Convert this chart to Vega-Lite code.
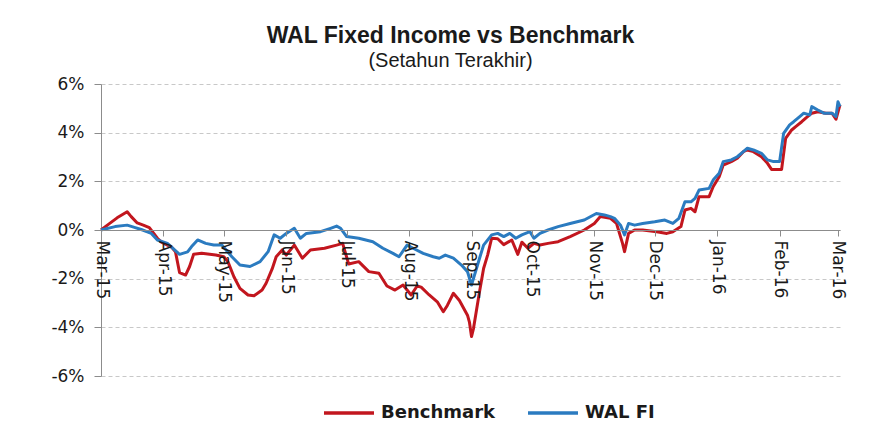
{
  "$schema": "https://vega.github.io/schema/vega-lite/v6.json",
  "autosize": "none",
  "width": 739,
  "height": 292,
  "padding": {"left": 101, "top": 84, "right": 37, "bottom": 56},
  "background": "white",
  "title": {
    "text": "WAL Fixed Income vs Benchmark",
    "subtitle": "(Setahun Terakhir)",
    "anchor": "middle",
    "frame": "group",
    "dx": -20,
    "offset": 4,
    "font": "Liberation Sans, Arial, sans-serif",
    "fontSize": 23,
    "fontWeight": "bold",
    "color": "#1a1a1a",
    "subtitleFont": "Liberation Sans, Arial, sans-serif",
    "subtitleFontSize": 20,
    "subtitleColor": "#1a1a1a",
    "subtitlePadding": 3
  },
  "config": {"view": {"stroke": null}, "font": "DejaVu Sans"},
  "data": {
    "values": [
      {"d": "2015-03-01", "s": "Benchmark", "v": 0},
      {"d": "2015-03-05", "s": "Benchmark", "v": 0.25},
      {"d": "2015-03-09", "s": "Benchmark", "v": 0.5},
      {"d": "2015-03-14", "s": "Benchmark", "v": 0.75},
      {"d": "2015-03-16", "s": "Benchmark", "v": 0.55},
      {"d": "2015-03-19", "s": "Benchmark", "v": 0.29},
      {"d": "2015-03-22", "s": "Benchmark", "v": 0.2},
      {"d": "2015-03-25", "s": "Benchmark", "v": 0.1},
      {"d": "2015-03-29", "s": "Benchmark", "v": -0.34},
      {"d": "2015-03-31", "s": "Benchmark", "v": -0.5},
      {"d": "2015-04-05", "s": "Benchmark", "v": -0.7},
      {"d": "2015-04-07", "s": "Benchmark", "v": -0.9},
      {"d": "2015-04-09", "s": "Benchmark", "v": -1.75},
      {"d": "2015-04-12", "s": "Benchmark", "v": -1.85},
      {"d": "2015-04-14", "s": "Benchmark", "v": -1.5},
      {"d": "2015-04-16", "s": "Benchmark", "v": -1.0},
      {"d": "2015-04-20", "s": "Benchmark", "v": -0.96},
      {"d": "2015-04-27", "s": "Benchmark", "v": -1.03},
      {"d": "2015-05-01", "s": "Benchmark", "v": -1.1},
      {"d": "2015-05-03", "s": "Benchmark", "v": -1.3},
      {"d": "2015-05-06", "s": "Benchmark", "v": -1.92},
      {"d": "2015-05-09", "s": "Benchmark", "v": -2.4},
      {"d": "2015-05-13", "s": "Benchmark", "v": -2.67},
      {"d": "2015-05-16", "s": "Benchmark", "v": -2.7},
      {"d": "2015-05-20", "s": "Benchmark", "v": -2.47},
      {"d": "2015-05-22", "s": "Benchmark", "v": -2.19},
      {"d": "2015-05-25", "s": "Benchmark", "v": -1.6},
      {"d": "2015-05-27", "s": "Benchmark", "v": -1.1},
      {"d": "2015-05-30", "s": "Benchmark", "v": -0.82},
      {"d": "2015-06-01", "s": "Benchmark", "v": -1.03},
      {"d": "2015-06-05", "s": "Benchmark", "v": -0.62},
      {"d": "2015-06-09", "s": "Benchmark", "v": -1.16},
      {"d": "2015-06-13", "s": "Benchmark", "v": -0.82},
      {"d": "2015-06-20", "s": "Benchmark", "v": -0.75},
      {"d": "2015-06-26", "s": "Benchmark", "v": -0.62},
      {"d": "2015-06-29", "s": "Benchmark", "v": -0.55},
      {"d": "2015-07-02", "s": "Benchmark", "v": -1.4},
      {"d": "2015-07-07", "s": "Benchmark", "v": -1.3},
      {"d": "2015-07-12", "s": "Benchmark", "v": -1.71},
      {"d": "2015-07-17", "s": "Benchmark", "v": -1.78},
      {"d": "2015-07-21", "s": "Benchmark", "v": -2.3},
      {"d": "2015-07-25", "s": "Benchmark", "v": -2.47},
      {"d": "2015-07-29", "s": "Benchmark", "v": -2.26},
      {"d": "2015-08-02", "s": "Benchmark", "v": -2.67},
      {"d": "2015-08-05", "s": "Benchmark", "v": -2.3},
      {"d": "2015-08-07", "s": "Benchmark", "v": -2.35},
      {"d": "2015-08-11", "s": "Benchmark", "v": -2.67},
      {"d": "2015-08-15", "s": "Benchmark", "v": -2.95},
      {"d": "2015-08-18", "s": "Benchmark", "v": -3.36},
      {"d": "2015-08-20", "s": "Benchmark", "v": -3.1},
      {"d": "2015-08-23", "s": "Benchmark", "v": -2.6},
      {"d": "2015-08-26", "s": "Benchmark", "v": -2.9},
      {"d": "2015-08-30", "s": "Benchmark", "v": -3.5},
      {"d": "2015-08-31", "s": "Benchmark", "v": -3.8},
      {"d": "2015-09-01", "s": "Benchmark", "v": -4.38},
      {"d": "2015-09-02", "s": "Benchmark", "v": -4.04},
      {"d": "2015-09-05", "s": "Benchmark", "v": -2.53},
      {"d": "2015-09-07", "s": "Benchmark", "v": -1.58},
      {"d": "2015-09-09", "s": "Benchmark", "v": -1.03},
      {"d": "2015-09-11", "s": "Benchmark", "v": -0.34},
      {"d": "2015-09-14", "s": "Benchmark", "v": -0.36},
      {"d": "2015-09-17", "s": "Benchmark", "v": -0.6},
      {"d": "2015-09-21", "s": "Benchmark", "v": -0.41},
      {"d": "2015-09-24", "s": "Benchmark", "v": -1.0},
      {"d": "2015-09-26", "s": "Benchmark", "v": -0.5},
      {"d": "2015-09-29", "s": "Benchmark", "v": -0.75},
      {"d": "2015-10-02", "s": "Benchmark", "v": -0.55},
      {"d": "2015-10-05", "s": "Benchmark", "v": -0.62},
      {"d": "2015-10-09", "s": "Benchmark", "v": -0.55},
      {"d": "2015-10-14", "s": "Benchmark", "v": -0.48},
      {"d": "2015-10-20", "s": "Benchmark", "v": -0.27},
      {"d": "2015-10-27", "s": "Benchmark", "v": 0},
      {"d": "2015-11-01", "s": "Benchmark", "v": 0.27},
      {"d": "2015-11-04", "s": "Benchmark", "v": 0.55},
      {"d": "2015-11-09", "s": "Benchmark", "v": 0.48},
      {"d": "2015-11-12", "s": "Benchmark", "v": 0.27},
      {"d": "2015-11-15", "s": "Benchmark", "v": -0.55},
      {"d": "2015-11-16", "s": "Benchmark", "v": -0.89},
      {"d": "2015-11-18", "s": "Benchmark", "v": -0.14},
      {"d": "2015-11-21", "s": "Benchmark", "v": 0},
      {"d": "2015-11-25", "s": "Benchmark", "v": 0},
      {"d": "2015-12-02", "s": "Benchmark", "v": -0.07},
      {"d": "2015-12-07", "s": "Benchmark", "v": -0.14},
      {"d": "2015-12-10", "s": "Benchmark", "v": -0.07},
      {"d": "2015-12-14", "s": "Benchmark", "v": 0.14},
      {"d": "2015-12-16", "s": "Benchmark", "v": 0.82},
      {"d": "2015-12-19", "s": "Benchmark", "v": 0.89},
      {"d": "2015-12-21", "s": "Benchmark", "v": 0.75},
      {"d": "2015-12-23", "s": "Benchmark", "v": 1.37},
      {"d": "2015-12-28", "s": "Benchmark", "v": 1.37},
      {"d": "2015-12-30", "s": "Benchmark", "v": 1.78},
      {"d": "2016-01-02", "s": "Benchmark", "v": 2.19},
      {"d": "2016-01-04", "s": "Benchmark", "v": 2.67},
      {"d": "2016-01-08", "s": "Benchmark", "v": 2.81},
      {"d": "2016-01-11", "s": "Benchmark", "v": 2.95},
      {"d": "2016-01-14", "s": "Benchmark", "v": 3.22},
      {"d": "2016-01-16", "s": "Benchmark", "v": 3.29},
      {"d": "2016-01-19", "s": "Benchmark", "v": 3.22},
      {"d": "2016-01-23", "s": "Benchmark", "v": 3.01},
      {"d": "2016-01-26", "s": "Benchmark", "v": 2.74},
      {"d": "2016-01-28", "s": "Benchmark", "v": 2.49},
      {"d": "2016-02-02", "s": "Benchmark", "v": 2.49},
      {"d": "2016-02-04", "s": "Benchmark", "v": 3.77},
      {"d": "2016-02-07", "s": "Benchmark", "v": 4.11},
      {"d": "2016-02-09", "s": "Benchmark", "v": 4.25},
      {"d": "2016-02-12", "s": "Benchmark", "v": 4.45},
      {"d": "2016-02-14", "s": "Benchmark", "v": 4.6},
      {"d": "2016-02-17", "s": "Benchmark", "v": 4.8},
      {"d": "2016-02-20", "s": "Benchmark", "v": 4.86},
      {"d": "2016-02-24", "s": "Benchmark", "v": 4.8},
      {"d": "2016-02-27", "s": "Benchmark", "v": 4.8},
      {"d": "2016-02-29", "s": "Benchmark", "v": 4.55},
      {"d": "2016-03-02", "s": "Benchmark", "v": 5.14},
      {"d": "2015-03-01", "s": "WAL FI", "v": 0},
      {"d": "2015-03-08", "s": "WAL FI", "v": 0.14},
      {"d": "2015-03-14", "s": "WAL FI", "v": 0.2},
      {"d": "2015-03-18", "s": "WAL FI", "v": 0.1},
      {"d": "2015-03-21", "s": "WAL FI", "v": 0.02},
      {"d": "2015-03-26", "s": "WAL FI", "v": -0.14},
      {"d": "2015-03-29", "s": "WAL FI", "v": -0.41},
      {"d": "2015-04-03", "s": "WAL FI", "v": -0.55},
      {"d": "2015-04-09", "s": "WAL FI", "v": -1.0},
      {"d": "2015-04-13", "s": "WAL FI", "v": -0.9},
      {"d": "2015-04-15", "s": "WAL FI", "v": -0.68},
      {"d": "2015-04-18", "s": "WAL FI", "v": -0.41},
      {"d": "2015-04-22", "s": "WAL FI", "v": -0.55},
      {"d": "2015-04-26", "s": "WAL FI", "v": -0.62},
      {"d": "2015-04-30", "s": "WAL FI", "v": -0.62},
      {"d": "2015-05-05", "s": "WAL FI", "v": -1.1},
      {"d": "2015-05-09", "s": "WAL FI", "v": -1.44},
      {"d": "2015-05-14", "s": "WAL FI", "v": -1.5},
      {"d": "2015-05-19", "s": "WAL FI", "v": -1.3},
      {"d": "2015-05-23", "s": "WAL FI", "v": -0.89},
      {"d": "2015-05-26", "s": "WAL FI", "v": -0.2},
      {"d": "2015-05-29", "s": "WAL FI", "v": -0.34},
      {"d": "2015-06-01", "s": "WAL FI", "v": -0.14},
      {"d": "2015-06-05", "s": "WAL FI", "v": 0.07},
      {"d": "2015-06-08", "s": "WAL FI", "v": -0.34},
      {"d": "2015-06-11", "s": "WAL FI", "v": -0.14},
      {"d": "2015-06-18", "s": "WAL FI", "v": -0.07},
      {"d": "2015-06-23", "s": "WAL FI", "v": 0.07},
      {"d": "2015-06-26", "s": "WAL FI", "v": 0.16},
      {"d": "2015-06-28", "s": "WAL FI", "v": 0.07},
      {"d": "2015-07-01", "s": "WAL FI", "v": -0.27},
      {"d": "2015-07-07", "s": "WAL FI", "v": -0.34},
      {"d": "2015-07-14", "s": "WAL FI", "v": -0.48},
      {"d": "2015-07-19", "s": "WAL FI", "v": -0.75},
      {"d": "2015-07-24", "s": "WAL FI", "v": -0.96},
      {"d": "2015-07-27", "s": "WAL FI", "v": -1.1},
      {"d": "2015-07-31", "s": "WAL FI", "v": -0.62},
      {"d": "2015-08-03", "s": "WAL FI", "v": -0.75},
      {"d": "2015-08-08", "s": "WAL FI", "v": -0.96},
      {"d": "2015-08-13", "s": "WAL FI", "v": -1.1},
      {"d": "2015-08-16", "s": "WAL FI", "v": -1.16},
      {"d": "2015-08-19", "s": "WAL FI", "v": -1.03},
      {"d": "2015-08-23", "s": "WAL FI", "v": -1.16},
      {"d": "2015-08-27", "s": "WAL FI", "v": -1.44},
      {"d": "2015-08-30", "s": "WAL FI", "v": -1.71},
      {"d": "2015-09-01", "s": "WAL FI", "v": -2.26},
      {"d": "2015-09-02", "s": "WAL FI", "v": -1.99},
      {"d": "2015-09-05", "s": "WAL FI", "v": -1.16},
      {"d": "2015-09-07", "s": "WAL FI", "v": -0.62},
      {"d": "2015-09-11", "s": "WAL FI", "v": -0.2},
      {"d": "2015-09-14", "s": "WAL FI", "v": -0.14},
      {"d": "2015-09-17", "s": "WAL FI", "v": -0.27},
      {"d": "2015-09-20", "s": "WAL FI", "v": -0.14},
      {"d": "2015-09-23", "s": "WAL FI", "v": -0.34},
      {"d": "2015-09-26", "s": "WAL FI", "v": -0.2},
      {"d": "2015-09-30", "s": "WAL FI", "v": -0.07},
      {"d": "2015-10-02", "s": "WAL FI", "v": -0.34},
      {"d": "2015-10-05", "s": "WAL FI", "v": -0.14},
      {"d": "2015-10-09", "s": "WAL FI", "v": 0},
      {"d": "2015-10-14", "s": "WAL FI", "v": 0.14},
      {"d": "2015-10-20", "s": "WAL FI", "v": 0.27},
      {"d": "2015-10-27", "s": "WAL FI", "v": 0.41},
      {"d": "2015-11-02", "s": "WAL FI", "v": 0.68},
      {"d": "2015-11-06", "s": "WAL FI", "v": 0.62},
      {"d": "2015-11-09", "s": "WAL FI", "v": 0.55},
      {"d": "2015-11-11", "s": "WAL FI", "v": 0.48},
      {"d": "2015-11-14", "s": "WAL FI", "v": 0.2},
      {"d": "2015-11-16", "s": "WAL FI", "v": -0.2},
      {"d": "2015-11-18", "s": "WAL FI", "v": 0.27},
      {"d": "2015-11-21", "s": "WAL FI", "v": 0.2},
      {"d": "2015-11-25", "s": "WAL FI", "v": 0.27},
      {"d": "2015-12-01", "s": "WAL FI", "v": 0.34},
      {"d": "2015-12-06", "s": "WAL FI", "v": 0.41},
      {"d": "2015-12-10", "s": "WAL FI", "v": 0.27},
      {"d": "2015-12-13", "s": "WAL FI", "v": 0.48},
      {"d": "2015-12-16", "s": "WAL FI", "v": 1.16},
      {"d": "2015-12-19", "s": "WAL FI", "v": 1.16},
      {"d": "2015-12-21", "s": "WAL FI", "v": 1.3},
      {"d": "2015-12-23", "s": "WAL FI", "v": 1.64},
      {"d": "2015-12-28", "s": "WAL FI", "v": 1.71},
      {"d": "2015-12-30", "s": "WAL FI", "v": 2.05},
      {"d": "2016-01-02", "s": "WAL FI", "v": 2.33},
      {"d": "2016-01-04", "s": "WAL FI", "v": 2.81},
      {"d": "2016-01-08", "s": "WAL FI", "v": 2.88},
      {"d": "2016-01-11", "s": "WAL FI", "v": 3.01},
      {"d": "2016-01-14", "s": "WAL FI", "v": 3.22},
      {"d": "2016-01-16", "s": "WAL FI", "v": 3.36},
      {"d": "2016-01-19", "s": "WAL FI", "v": 3.29},
      {"d": "2016-01-23", "s": "WAL FI", "v": 3.15},
      {"d": "2016-01-26", "s": "WAL FI", "v": 2.88},
      {"d": "2016-01-29", "s": "WAL FI", "v": 2.81},
      {"d": "2016-02-01", "s": "WAL FI", "v": 2.81},
      {"d": "2016-02-03", "s": "WAL FI", "v": 3.97},
      {"d": "2016-02-06", "s": "WAL FI", "v": 4.32},
      {"d": "2016-02-08", "s": "WAL FI", "v": 4.45},
      {"d": "2016-02-11", "s": "WAL FI", "v": 4.66},
      {"d": "2016-02-13", "s": "WAL FI", "v": 4.8},
      {"d": "2016-02-16", "s": "WAL FI", "v": 4.73},
      {"d": "2016-02-17", "s": "WAL FI", "v": 5.07},
      {"d": "2016-02-20", "s": "WAL FI", "v": 4.93},
      {"d": "2016-02-23", "s": "WAL FI", "v": 4.8},
      {"d": "2016-02-27", "s": "WAL FI", "v": 4.8},
      {"d": "2016-02-29", "s": "WAL FI", "v": 4.66},
      {"d": "2016-03-01", "s": "WAL FI", "v": 5.27},
      {"d": "2016-03-02", "s": "WAL FI", "v": 5.07}
    ]
  },
  "mark": {"type": "line", "strokeWidth": 3, "strokeJoin": "round"},
  "encoding": {
    "x": {
      "field": "d",
      "type": "temporal",
      "scale": {
        "type": "utc",
        "domain": [
          {"year": 2015, "month": 3, "date": 1, "utc": true},
          {"year": 2016, "month": 3, "date": 2, "utc": true}
        ]
      },
      "axis": {
        "orient": "bottom",
        "offset": -146,
        "title": null,
        "grid": false,
        "zindex": 1,
        "values": [
          {"year": 2015, "month": 3, "date": 1, "utc": true},
          {"year": 2015, "month": 4, "date": 1, "utc": true},
          {"year": 2015, "month": 5, "date": 1, "utc": true},
          {"year": 2015, "month": 6, "date": 1, "utc": true},
          {"year": 2015, "month": 7, "date": 1, "utc": true},
          {"year": 2015, "month": 8, "date": 1, "utc": true},
          {"year": 2015, "month": 9, "date": 1, "utc": true},
          {"year": 2015, "month": 10, "date": 1, "utc": true},
          {"year": 2015, "month": 11, "date": 1, "utc": true},
          {"year": 2015, "month": 12, "date": 1, "utc": true},
          {"year": 2016, "month": 1, "date": 1, "utc": true},
          {"year": 2016, "month": 2, "date": 1, "utc": true},
          {"year": 2016, "month": 3, "date": 1, "utc": true}
        ],
        "labelExpr": "utcFormat(datum.value, '%b-%y')",
        "domainColor": "#8c8c8c",
        "tickColor": "#8c8c8c",
        "tickSize": 6,
        "labelAngle": 90,
        "labelAlign": "left",
        "labelBaseline": "middle",
        "labelFont": "DejaVu Sans",
        "labelFontSize": 17,
        "labelColor": "#1a1a1a",
        "labelPadding": 4,
        "labelOverlap": false,
        "labelFlush": false
      }
    },
    "y": {
      "field": "v",
      "type": "quantitative",
      "scale": {"domain": [-6, 6], "nice": false, "zero": false},
      "axis": {
        "title": null,
        "values": [-6, -4, -2, 0, 2, 4, 6],
        "labelExpr": "datum.value + '%'",
        "grid": true,
        "gridDash": [4, 3],
        "gridColor": "#c8c8c8",
        "domainColor": "#8c8c8c",
        "tickColor": "#8c8c8c",
        "tickSize": 7,
        "labelPadding": 10,
        "labelFont": "DejaVu Sans",
        "labelFontSize": 17,
        "labelColor": "#1a1a1a"
      }
    },
    "color": {
      "field": "s",
      "type": "nominal",
      "scale": {"domain": ["Benchmark", "WAL FI"], "range": ["#c2161e", "#2b7bc0"]},
      "legend": {
        "title": null,
        "orient": "none",
        "direction": "horizontal",
        "legendX": 221,
        "legendY": 302,
        "symbolType": "stroke",
        "symbolSize": 2500,
        "symbolStrokeWidth": 3.5,
        "labelFont": "DejaVu Sans",
        "labelFontSize": 18,
        "labelFontWeight": "bold",
        "labelColor": "#1a1a1a",
        "labelOffset": 5,
        "columnPadding": 26
      }
    }
  }
}
